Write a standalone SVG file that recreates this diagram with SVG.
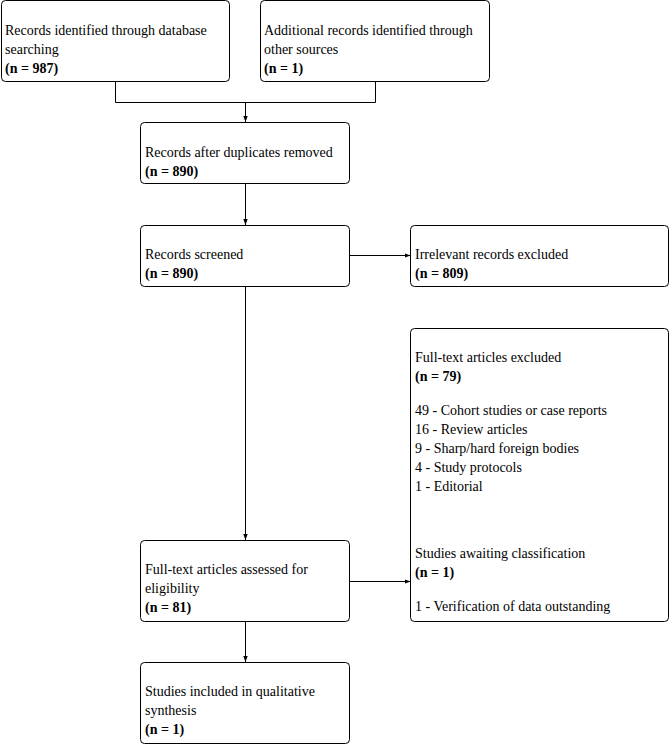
<svg xmlns="http://www.w3.org/2000/svg" width="672" height="744" viewBox="0 0 672 744">
<style>
.box{fill:#fff;stroke:#000;stroke-width:1}
text{font-family:'Liberation Serif','Times New Roman',serif;font-size:14px;fill:#000}
.b{font-weight:bold}
.c{fill:none;stroke:#000;stroke-width:1}
</style>
<defs>
<marker id="ah" viewBox="0 0 6 6" refX="6" refY="3" markerWidth="6" markerHeight="6" markerUnits="userSpaceOnUse" orient="auto">
<path d="M0,0.8 L6,3 L0,5.2 Z" fill="#000"/>
</marker>
</defs>
<rect width="672" height="744" fill="#fff"/>
<g id="connectors">
<path class="c" d="M115.5,81 V102.5 H375.5 V81"/>
<path class="c" d="M245.5,102.5 V122" marker-end="url(#ah)"/>
<path class="c" d="M245.5,183 V225" marker-end="url(#ah)"/>
<path class="c" d="M349,255.5 H410.5" marker-end="url(#ah)"/>
<path class="c" d="M245.5,286 V540" marker-end="url(#ah)"/>
<path class="c" d="M349,581.5 H410.5" marker-end="url(#ah)"/>
<path class="c" d="M245.5,621 V662" marker-end="url(#ah)"/>
</g>
<g id="n1">
<rect class="box" x="1.5" y="0.5" width="228" height="81" rx="4"/>
<text x="5" y="35">Records identified through database</text>
<text x="5" y="54">searching</text>
<text class="b" x="5" y="73">(n = 987)</text>
</g>
<g id="n2">
<rect class="box" x="260.5" y="0.5" width="229" height="81" rx="4"/>
<text x="264" y="35">Additional records identified through</text>
<text x="264" y="54">other sources</text>
<text class="b" x="264" y="73">(n = 1)</text>
</g>
<g id="n3">
<rect class="box" x="140.5" y="122.5" width="209" height="61" rx="4"/>
<text x="145" y="157">Records after duplicates removed</text>
<text class="b" x="145" y="176">(n = 890)</text>
</g>
<g id="n4">
<rect class="box" x="140.5" y="225.5" width="209" height="61" rx="4"/>
<text x="145" y="259">Records screened</text>
<text class="b" x="145" y="278">(n = 890)</text>
</g>
<g id="n5">
<rect class="box" x="410.5" y="225.5" width="258" height="61" rx="4"/>
<text x="415" y="259">Irrelevant records excluded</text>
<text class="b" x="415" y="278">(n = 809)</text>
</g>
<g id="n6">
<rect class="box" x="410.5" y="328.5" width="258" height="293" rx="4"/>
<text x="415" y="362">Full-text articles excluded</text>
<text class="b" x="415" y="381">(n = 79)</text>
<text x="415" y="415">49 - Cohort studies or case reports</text>
<text x="415" y="434">16 - Review articles</text>
<text x="415" y="453">9 - Sharp/hard foreign bodies</text>
<text x="415" y="472">4 - Study protocols</text>
<text x="415" y="491">1 - Editorial</text>
<text x="415" y="558">Studies awaiting classification</text>
<text class="b" x="415" y="577">(n = 1)</text>
<text x="415" y="611">1 - Verification of data outstanding</text>
</g>
<g id="n7">
<rect class="box" x="140.5" y="540.5" width="209" height="81" rx="4"/>
<text x="145" y="574">Full-text articles assessed for</text>
<text x="145" y="593">eligibility</text>
<text class="b" x="145" y="612">(n = 81)</text>
</g>
<g id="n8">
<rect class="box" x="140.5" y="662.5" width="209" height="81" rx="4"/>
<text x="145" y="696">Studies included in qualitative</text>
<text x="145" y="715">synthesis</text>
<text class="b" x="145" y="734">(n = 1)</text>
</g>
</svg>
